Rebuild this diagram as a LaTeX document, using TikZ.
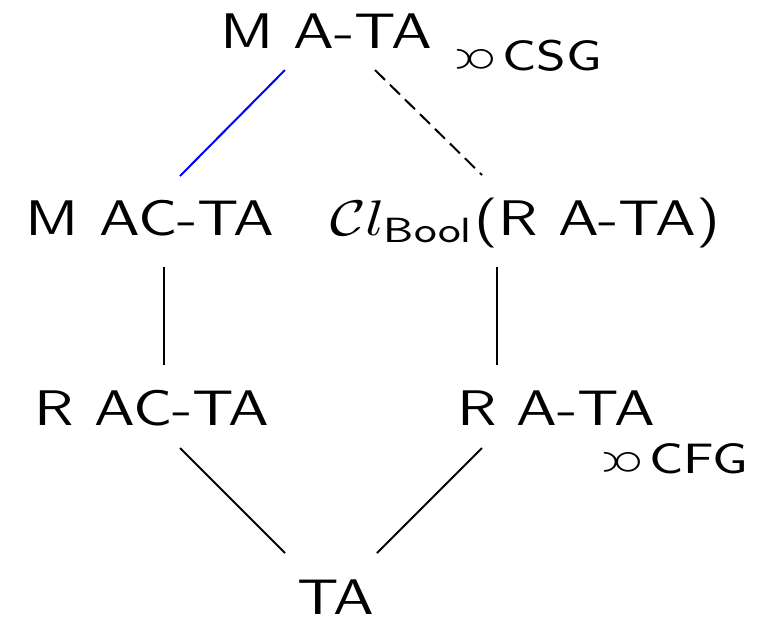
\documentclass[tikz,border=0pt]{standalone}
\usepackage{amsmath,amssymb}
\usepackage{graphicx}
\renewcommand{\familydefault}{\sfdefault}
\newcommand{\wide}[1]{\scalebox{1.22}[1]{#1}}
\newcommand{\revprop}{\scalebox{1.05}{\reflectbox{$\varpropto$}}\kern1pt}

\begin{document}
\begin{tikzpicture}[x=0.2pt,y=-0.2pt,
  lab/.style={anchor=base,inner sep=0pt,font=\sffamily},
  note/.style={anchor=base west,inner sep=0pt,font=\sffamily\fontsize{8.5}{10}\selectfont},
  link/.style={line width=0.4pt}]
\useasboundingbox (0,0) rectangle (765,619);

% classes of tree automata
\node[lab] (mata) at (326,48) {\wide{M A-TA}};
\node[lab] (macta) at (150,235) {\wide{M AC-TA}};
\node[lab] (clbool) at (525,235) {\wide{$\mathcal{C}l_{\textsf{Bool}}$(R A-TA)}};
\node[lab] (racta) at (152,425) {\wide{R AC-TA}};
\node[lab] (rata) at (556,425) {\wide{R A-TA}};
\node[lab] (ta) at (336,614) {\wide{TA}};

% comparisons with grammars
\node[note] (csg) at (453,70) {\wide{\revprop CSG}};
\node[note] (cfg) at (600,473) {\wide{\revprop CFG}};

% inclusions
\draw[link,blue] ([shift={(-41,22)}]mata.base) -- ([shift={(30,-59)}]macta.base);
\draw[link,dash pattern=on 2.8pt off 1.4pt] ([shift={(49,22)}]mata.base) -- ([shift={(-43,-60)}]clbool.base);
\draw[link] ([shift={(14,32)}]macta.base) -- ([shift={(12,-60)}]racta.base);
\draw[link] ([shift={(-28,32)}]clbool.base) -- ([shift={(-59,-60)}]rata.base);
\draw[link] ([shift={(28,23)}]racta.base) -- ([shift={(-51,-61)}]ta.base);
\draw[link] ([shift={(-74,23)}]rata.base) -- ([shift={(41,-61)}]ta.base);
\end{tikzpicture}
\end{document}
